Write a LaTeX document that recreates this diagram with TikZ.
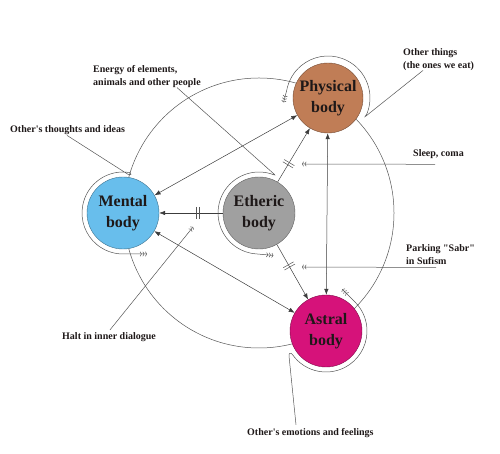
\documentclass[tikz,border=0pt]{standalone}
\usepackage{fontspec}
\setmainfont{Liberation Serif}
\usetikzlibrary{arrows.meta,positioning,calc,decorations.markings}
\definecolor{physc}{RGB}{192,125,86}
\definecolor{mentc}{RGB}{104,190,236}
\definecolor{ethec}{RGB}{160,160,160}
\definecolor{astrc}{RGB}{214,18,122}
\definecolor{inkc}{RGB}{30,24,24}
\definecolor{linec}{RGB}{85,85,85}

\begin{document}
\begin{tikzpicture}[x=1pt,y=1pt,
  orb/.style={circle,draw=#1!60!black,fill=#1,minimum size=72pt,inner sep=0pt,align=center,
    text=inkc,font=\fontsize{16}{21}\selectfont\bfseries},
  note/.style={align=left,inner sep=0pt,text=inkc,font=\fontsize{10}{13}\selectfont\bfseries},
  lead/.style={draw=linec,line width=.5pt},
  arr/.style={draw=linec!70!black,line width=.5pt,-{Latex[length=6pt,width=4.5pt]}},
  arr2/.style={arr,{Latex[length=6pt,width=4.5pt]}-{Latex[length=6pt,width=4.5pt]}},
  fl3/.style={-{Straight Barb[length=1.3pt,width=4.5pt,sep=.8pt]Straight Barb[length=1.3pt,width=4.5pt,sep=.8pt]Straight Barb[length=1.3pt,width=4.5pt]}},
  fl2/.style={-{Straight Barb[length=1.3pt,width=4.5pt,sep=.8pt]Straight Barb[length=1.3pt,width=4.5pt]}},
  cut/.style={postaction={decorate,decoration={markings,mark=at position #1 with
    {\draw[linec,line width=.5pt,-] (-1.3pt,-6pt) -- (-1.3pt,6pt) (1.3pt,-6pt) -- (1.3pt,6pt);}}}}]
\useasboundingbox (0,0) rectangle (500,454);
% the ring through the three outer bodies
\coordinate (ec) at (259,241);
\draw[lead] (ec) circle[radius=135pt];
% bodies
\node[orb=physc,minimum size=70pt] (phys) at (328,356) {Physical\\body};
\node[orb=mentc] (ment) at (123,241) {Mental\\body};
\node[orb=ethec] (ethe) at (ec) {Etheric\\body};
\node[orb=astrc] (astr) at (326,123) {Astral\\body};
% sources
\node[note,anchor=north west] (enrg) at (93,389) {Energy of elements,\\animals and other people};
\node[note,anchor=base west] (thts) at (10,321) {Other\textquotesingle s thoughts and ideas};
\node[note,anchor=north west] (othr) at (403,406) {Other things\\(the ones we eat)};
\node[note,anchor=base west] (slp) at (413,297) {Sleep, coma};
\node[note,anchor=north west] (park) at (406,210) {Parking \textquotedbl Sabr\textquotedbl\\in Sufism};
\node[note,anchor=base west] (halt) at (62,114) {Halt in inner dialogue};
\node[note,anchor=base west] (emot) at (247,18) {Other\textquotesingle s emotions and feelings};
% free ends
\coordinate (mH) at (129,279);
\coordinate (eH) at (274,280);
\coordinate (pH) at (366,338);
\coordinate (aH) at (289,98);
\coordinate (slpE) at (302,290);
\coordinate (parkE) at (302,187);
\coordinate (haltE) at (193,227);
% flows between bodies
\draw[arr,cut=.39] (ethe) -- (ment);
\draw[arr,cut=.34] (ethe) -- (phys);
\draw[arr,cut=.39] (ethe) -- (astr);
\draw[arr2] (ment) -- (phys);
\draw[arr2] (ment) -- (astr);
\draw[arr2] (phys) -- (astr);
% outside inputs wrapping round each body
\draw[lead,fl3] ([xshift=57pt]thts.south west) -- (mH)
  to[out=-33,in=350,looseness=2] ($(ment)+(80:41pt)$)
  arc[start angle=80,end angle=270,radius=41pt] -- ++(24pt,0);
\draw[lead,fl3] ([xshift=84pt]enrg.south west) -- (eH)
  to[out=-42,in=345,looseness=2] ($(ethe)+(75:41pt)$)
  arc[start angle=75,end angle=265,radius=41pt] -- ++(355:18pt);
\draw[lead,fl3] ([xshift=20pt]othr.south west) -- (pH)
  to[out=218,in=250,looseness=2] ($(phys)+(-20:42pt)$)
  arc[start angle=-20,end angle=170,radius=42pt] -- ++(255:12pt);
\draw[lead,fl3] ([xshift=49pt,yshift=4pt]emot.north west) -- (aH)
  to[out=97,in=125,looseness=2] ($(astr)+(215:41pt)$)
  arc[start angle=215,end angle=405,radius=41pt] -- ++(135:18pt);
% cuts
\draw[lead,fl2] ([xshift=22pt,yshift=-5pt]slp.south west) -- (slpE);
\draw[lead,fl2] ([xshift=30pt,yshift=-3pt]park.south west) -- (parkE);
\draw[lead,fl2] ([xshift=48pt,yshift=3pt]halt.north west) -- (haltE);
\end{tikzpicture}
\end{document}
